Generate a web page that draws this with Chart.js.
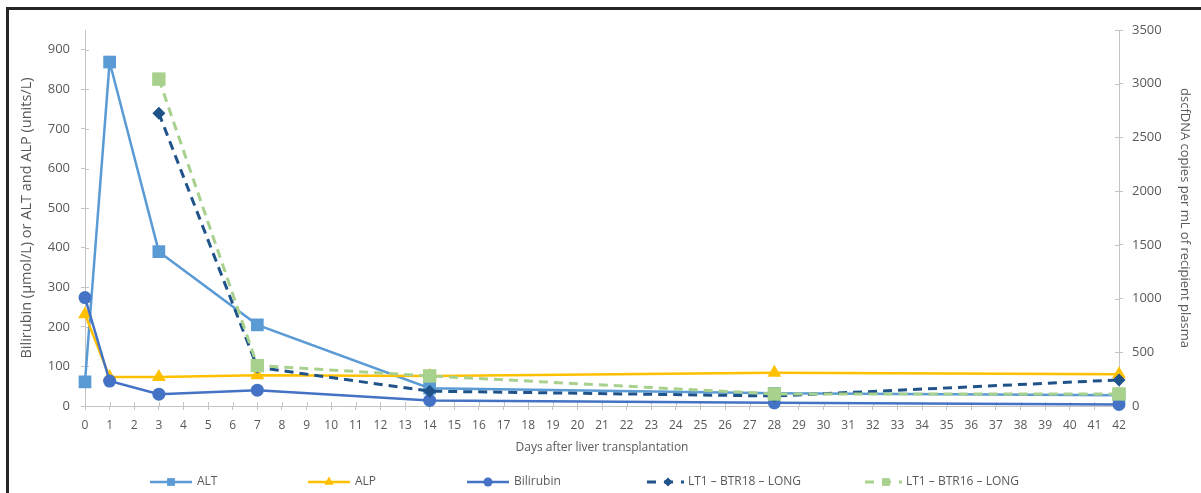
<!DOCTYPE html>
<html>
<head>
<meta charset="utf-8">
<title>Liver function and dscfDNA after liver transplantation</title>
<script src="https://cdn.jsdelivr.net/npm/chart.js@4.4.1/dist/chart.umd.min.js"></script>
<style>
  html, body { margin: 0; padding: 0; background: #ffffff; }
  #wrap { position: relative; width: 1201px; height: 493px; overflow: hidden; }
  #frame {
    position: absolute; left: 6px; top: 7px; right: -10px; bottom: -10px;
    border-top: 3px solid #262626; border-left: 3px solid #262626;
    pointer-events: none;
  }
  canvas { display: block; }
</style>
</head>
<body>
<div id="wrap">
  <canvas id="chart" width="1201" height="493"></canvas>
  <div id="frame"></div>
</div>
<script>
// Days on which liver enzymes and bilirubin were measured
const labDays = [0, 1, 3, 7, 14, 28, 42];
const altValues = [61, 869, 390, 205, 45, 32, 27];
const alpValues = [232, 73, 73, 78, 76, 84, 80];
const bilirubinValues = [274, 63, 30, 40, 14, 8, 4];

// Days on which donor-specific cfDNA was measured (copies/mL)
const dnaDays = [3, 7, 14, 28, 42];
const btr18Values = [2725, 360, 138, 93, 243];
const btr16Values = [3043, 376, 280, 112, 112];

// Series names and axis titles
const seriesNames = ['ALT', 'ALP', 'Bilirubin', 'LT1 – BTR18 – LONG', 'LT1 – BTR16 – LONG'];
const xTitle = 'Days after liver transplantation';
const yLeftTitle = 'Bilirubin (µmol/L) or ALT and ALP (units/L)';
const yRightTitle = 'dscfDNA copies per mL of recipient plasma';

const pairs = (xs, ys) => xs.map((x, i) => ({ x: x, y: ys[i] }));

const TEXT = '#595959';
const AXIS = '#c4c4c4';
Chart.defaults.font.family = "'Open Sans', 'Noto Sans', sans-serif";
Chart.defaults.color = TEXT;

// Excel-style tick marks that cross the axis line (inner half)
const crossTicks = {
  id: 'crossTicks',
  beforeDatasetsDraw(chart) {
    const { ctx, chartArea, scales } = chart;
    ctx.save();
    ctx.strokeStyle = AXIS;
    ctx.lineWidth = 1;
    ctx.beginPath();
    scales.x.ticks.forEach(t => {
      const px = Math.round(scales.x.getPixelForValue(t.value)) + 0.5;
      ctx.moveTo(px, chartArea.bottom - 4);
      ctx.lineTo(px, chartArea.bottom);
    });
    scales.y.ticks.forEach(t => {
      const py = Math.round(scales.y.getPixelForValue(t.value)) + 0.5;
      ctx.moveTo(chartArea.left, py);
      ctx.lineTo(chartArea.left + 4, py);
    });
    scales.y2.ticks.forEach(t => {
      const py = Math.round(scales.y2.getPixelForValue(t.value)) + 0.5;
      ctx.moveTo(chartArea.right - 4, py);
      ctx.lineTo(chartArea.right, py);
    });
    ctx.stroke();
    ctx.restore();
  }
};

// Legend row: line sample with marker, then the series name
const legendStarts = [150, 308, 467, 647, 865];
const lineLegend = {
  id: 'lineLegend',
  afterDraw(chart) {
    const { ctx } = chart;
    const y = 482;
    ctx.save();
    chart.data.datasets.forEach((ds, i) => {
      const x0 = legendStarts[i];
      const dashed = ds.borderDash && ds.borderDash.length;
      const len = dashed ? 37 : 42;
      ctx.save();
      ctx.strokeStyle = ds.borderColor;
      ctx.lineWidth = dashed ? 3 : 2.5;
      ctx.setLineDash(dashed ? [9, 8] : []);
      ctx.beginPath();
      ctx.moveTo(x0, y);
      ctx.lineTo(x0 + len, y);
      ctx.stroke();
      ctx.restore();
      const mx = x0 + 21;
      ctx.fillStyle = ds.backgroundColor;
      ctx.strokeStyle = ds.backgroundColor;
      Chart.helpers.drawPoint(ctx, {
        pointStyle: ds.pointStyle,
        radius: ds.pointStyle === 'circle' ? 4.5 : (ds.pointStyle === 'rectRot' ? 4.5 : 5.5),
        rotation: 0,
        borderWidth: 0
      }, mx, y);
      ctx.fillStyle = TEXT;
      ctx.font = "12px 'Open Sans', sans-serif";
      ctx.textBaseline = 'middle';
      ctx.textAlign = 'left';
      ctx.fillText(ds.label, x0 + len + (dashed ? 4 : 5), y);
    });
    ctx.restore();
  }
};

const solid = (label, color, style, radius, xs, ys, order) => ({
  label, data: pairs(xs, ys), yAxisID: 'y',
  borderColor: color, backgroundColor: color, borderWidth: 2.5,
  pointStyle: style, pointRadius: radius, pointBorderWidth: 0,
  pointBackgroundColor: color, tension: 0, clip: false, order
});
const dashedLine = (label, color, style, radius, xs, ys, order) => ({
  label, data: pairs(xs, ys), yAxisID: 'y2',
  borderColor: color, backgroundColor: color, borderWidth: 3, borderDash: [9, 6],
  pointStyle: style, pointRadius: radius, pointBorderWidth: 0,
  pointBackgroundColor: color, tension: 0, clip: false, order
});

const plainNumber = v => String(v);

new Chart(document.getElementById('chart'), {
  type: 'line',
  data: {
    datasets: [
      solid(seriesNames[0], '#5B9BD5', 'rect', 9, labDays, altValues, 5),
      solid(seriesNames[1], '#FFC000', 'triangle', 8, labDays, alpValues, 4),
      solid(seriesNames[2], '#4472C4', 'circle', 6.5, labDays, bilirubinValues, 3),
      dashedLine(seriesNames[3], '#1F5389', 'rectRot', 6.5, dnaDays, btr18Values, 2),
      dashedLine(seriesNames[4], '#A9D18E', 'rect', 9.5, dnaDays, btr16Values, 1)
    ]
  },
  options: {
    responsive: false,
    animation: false,
    layout: { padding: { top: 30, bottom: 0, left: 0, right: 0 } },
    plugins: { legend: { display: false }, tooltip: { enabled: false } },
    scales: {
      x: {
        type: 'linear', min: 0, max: 42, offset: false,
        ticks: { stepSize: 1, autoSkip: false, maxRotation: 0, padding: 8, font: { size: 12 }, color: TEXT, callback: plainNumber },
        grid: { drawOnChartArea: false, drawTicks: true, tickLength: 4, color: AXIS },
        border: { display: true, color: AXIS, width: 1 },
        title: { display: true, text: xTitle, font: { size: 12 }, color: TEXT, padding: { top: 0, bottom: 38 } },
        afterFit(s) { s.height = 87; }
      },
      y: {
        type: 'linear', position: 'left', min: 0, max: 950,
        ticks: { stepSize: 100, padding: 11, font: { size: 13 }, color: TEXT, callback: plainNumber },
        afterBuildTicks(s) { s.ticks = s.ticks.filter(t => t.value % 100 === 0); },
        grid: { drawOnChartArea: false, drawTicks: true, tickLength: 4, color: AXIS },
        border: { display: true, color: AXIS, width: 1 },
        title: { display: true, text: yLeftTitle, font: { size: 14.5 }, color: TEXT, padding: { top: 18, bottom: 0 } },
        afterFit(s) { s.width = 85; }
      },
      y2: {
        type: 'linear', position: 'right', min: 0, max: 3500,
        ticks: { stepSize: 500, padding: 9, font: { size: 13 }, color: TEXT, callback: plainNumber },
        grid: { drawOnChartArea: false, drawTicks: true, tickLength: 4, color: AXIS },
        border: { display: true, color: AXIS, width: 1 },
        title: { display: true, text: yRightTitle, font: { size: 13 }, color: TEXT, padding: { top: 8, bottom: 0 } },
        afterFit(s) { s.width = 82; }
      }
    }
  },
  plugins: [crossTicks, lineLegend]
});
</script>
</body>
</html>
